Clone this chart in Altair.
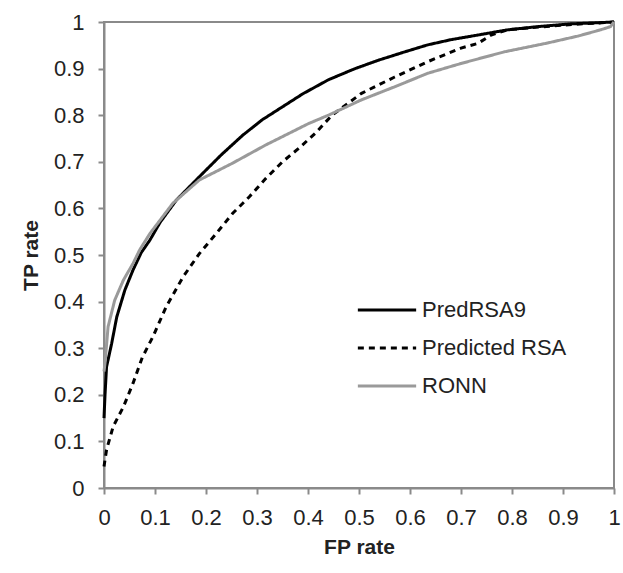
import altair as alt
import pandas as pd

series_names = ["PredRSA9", "Predicted RSA", "RONN"]

pred9_fp = [0, 0.002, 0.005, 0.015, 0.025, 0.041, 0.057, 0.073, 0.09, 0.11, 0.142, 0.187, 0.23,
            0.272, 0.31, 0.35, 0.39, 0.44, 0.49, 0.538, 0.59, 0.635, 0.68, 0.733, 0.79, 0.85,
            0.915, 0.96, 1.0]
pred9_tp = [0.15, 0.2, 0.26, 0.31, 0.367, 0.425, 0.468, 0.505, 0.532, 0.57, 0.618, 0.668, 0.715,
            0.757, 0.79, 0.818, 0.846, 0.876, 0.899, 0.918, 0.936, 0.951, 0.962, 0.972, 0.983, 0.99,
            0.996, 0.998, 1.0]

rsa_fp = [0, 0.005, 0.018, 0.038, 0.057, 0.075, 0.096, 0.122, 0.155, 0.187, 0.22, 0.252, 0.285,
          0.317, 0.35, 0.382, 0.415, 0.447, 0.505, 0.57, 0.635, 0.70, 0.733, 0.759, 0.79, 0.85,
          0.92, 0.97, 1.0]
rsa_tp = [0.046, 0.082, 0.132, 0.174, 0.225, 0.28, 0.325, 0.389, 0.453, 0.503, 0.546, 0.589, 0.625,
          0.664, 0.70, 0.729, 0.762, 0.80, 0.847, 0.882, 0.915, 0.944, 0.954, 0.972, 0.983, 0.989,
          0.995, 0.998, 1.0]

ronn_fp = [0, 0.002, 0.008, 0.021, 0.038, 0.057, 0.07, 0.09, 0.135, 0.187, 0.252, 0.317, 0.401,
           0.44, 0.505, 0.57, 0.635, 0.70, 0.785, 0.87, 0.93, 0.973, 0.993, 1.0]
ronn_tp = [0.25, 0.268, 0.346, 0.403, 0.446, 0.482, 0.511, 0.546, 0.611, 0.661, 0.697, 0.736, 0.782,
           0.80, 0.833, 0.861, 0.89, 0.911, 0.936, 0.955, 0.97, 0.983, 0.99, 1.0]

tick_values = [0, 0.1, 0.2, 0.3, 0.4, 0.5, 0.6, 0.7, 0.8, 0.9, 1]

rows = []
for name, fps, tps in [(series_names[0], pred9_fp, pred9_tp),
                       (series_names[1], rsa_fp, rsa_tp),
                       (series_names[2], ronn_fp, ronn_tp)]:
    for i, (f, t) in enumerate(zip(fps, tps)):
        rows.append({"series": name, "fp": f, "tp": t, "i": i})
df = pd.DataFrame(rows)

legend = alt.Legend(
    title=None, orient="none", legendX=252, legendY=277, padding=0,
    symbolType="stroke", symbolSize=3400, symbolStrokeWidth=3,
    labelFont="Liberation Sans", labelFontSize=22, labelColor="#222222",
    labelOffset=4, rowPadding=16, clipHeight=22,
)

chart = alt.Chart(df).mark_line(strokeWidth=3).encode(
    x=alt.X("fp:Q", title="FP rate", scale=alt.Scale(domain=[0, 1], nice=False),
            axis=alt.Axis(values=tick_values, format=".1~f", labelPadding=13, titlePadding=8,
                          labelFlush=False)),
    y=alt.Y("tp:Q", title="TP rate", scale=alt.Scale(domain=[0, 1], nice=False),
            axis=alt.Axis(values=tick_values, format=".1~f", labelPadding=14, titlePadding=12,
                          labelFlush=False)),
    color=alt.Color("series:N", scale=alt.Scale(domain=series_names,
                                                range=["#000000", "#000000", "#9a9a9a"]),
                    legend=legend),
    strokeDash=alt.StrokeDash("series:N", scale=alt.Scale(domain=series_names,
                                                          range=[[1, 0], [6, 5], [1, 0]]),
                              legend=legend),
    order="i:Q",
).properties(
    width=510, height=466,
    autosize="none",
    padding={"left": 104, "top": 22, "right": 9, "bottom": 85},
).configure_axis(
    grid=False, domainColor="#8a8a8a", domainWidth=2, tickColor="#8a8a8a", tickWidth=2,
    tickSize=6, labelFont="Liberation Sans", labelFontSize=22, labelColor="#222222",
    titleFont="Liberation Sans", titleFontSize=21, titleFontWeight="bold", titleColor="#222222",
).configure_view(stroke="#8a8a8a", strokeWidth=2)

chart.save("out.html", embed_options={"renderer": "svg", "actions": False})
